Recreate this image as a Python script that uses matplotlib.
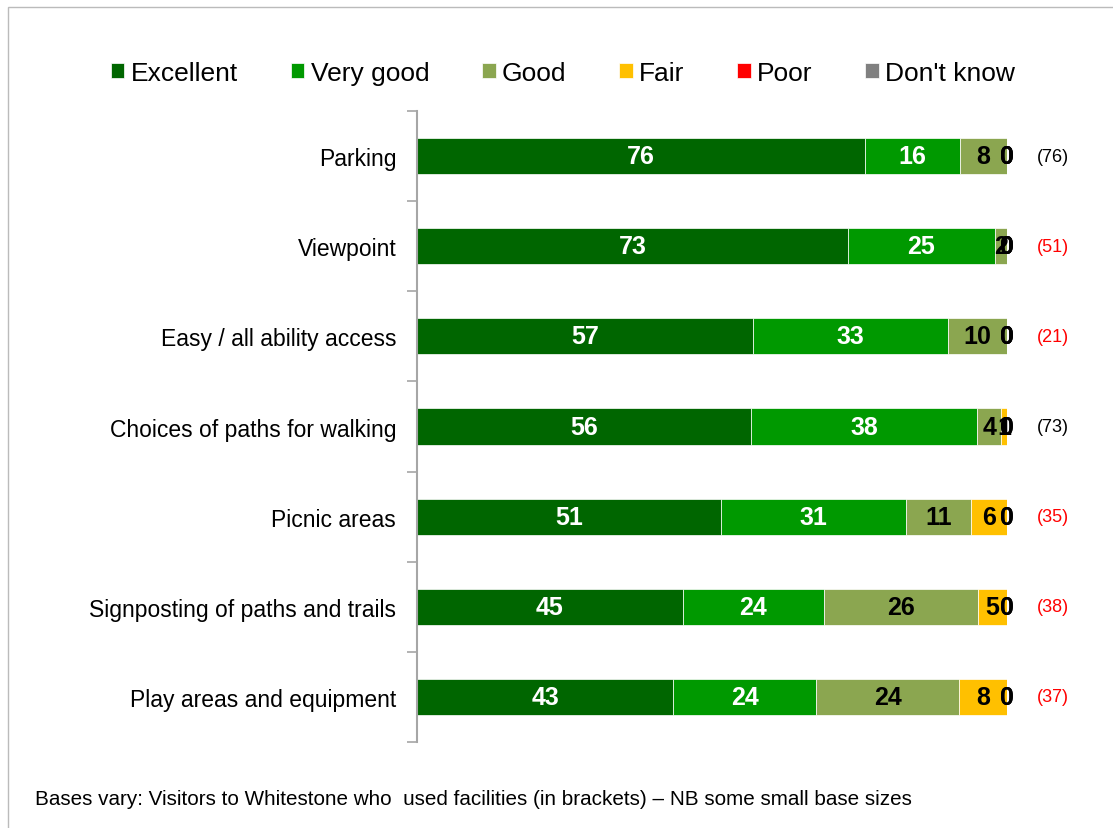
import matplotlib.pyplot as plt
import numpy as np
from matplotlib.patches import Rectangle

plt.rcParams["font.family"] = ["Liberation Sans", "DejaVu Sans"]

categories = [
    "Parking",
    "Viewpoint",
    "Easy / all ability access",
    "Choices of paths for walking",
    "Picnic areas",
    "Signposting of paths and trails",
    "Play areas and equipment",
]
series_names = ["Excellent", "Very good", "Good", "Fair", "Poor", "Don't know"]
excellent = [76, 73, 57, 56, 51, 45, 43]
very_good = [16, 25, 33, 38, 31, 24, 24]
good = [8, 2, 10, 4, 11, 26, 24]
fair = [0, 0, 0, 1, 6, 5, 8]
poor = [0, 0, 0, 0, 0, 0, 0]
dont_know = [0, 0, 0, 0, 0, 0, 0]
bases = ["(76)", "(51)", "(21)", "(73)", "(35)", "(38)", "(37)"]
small_base = [False, True, True, False, True, True, True]

colors = ["#006600", "#009900", "#8BA650", "#FFC000", "#FF0000", "#808080"]
label_colors = ["white", "white", "black", "black", "black", "black"]

data = np.array([excellent, very_good, good, fair, poor, dont_know], dtype=float)
# 100% stacked: widths scaled so every bar fills the row
share = data / data.sum(axis=0) * 100

fig = plt.figure(figsize=(11.13, 8.29), dpi=100)
ax = fig.add_axes([0.3747, 0.1037, 0.5301, 0.7612])

y = np.arange(len(categories))
left = np.zeros(len(categories))
for i, name in enumerate(series_names):
    w = share[i]
    ax.barh(y, w, left=left, height=0.4, color=colors[i], label=name,
            edgecolor="white", linewidth=0.5)
    for j, v in enumerate(data[i]):
        ax.text(left[j] + w[j] / 2, y[j], f"{int(v)}", ha="center", va="center",
                color=label_colors[i], fontsize=18, fontweight="bold")
    left += w

for j, b in enumerate(bases):
    ax.text(107.8, y[j], b, ha="center", va="center", fontsize=13,
            color="#FF0000" if small_base[j] else "black")

ax.set_xlim(0, 100)
ax.set_ylim(len(categories) - 0.5, -0.5)
ax.set_yticks(y)
ax.set_yticklabels(categories, fontsize=16.5)
ax.tick_params(axis="y", length=0, pad=15)
ax.set_yticks(np.arange(len(categories) + 1) - 0.5, minor=True)
ax.tick_params(axis="y", which="minor", length=7, width=1.2, color="#A6A6A6")
ax.set_xticks([])
for s in ["top", "right", "bottom"]:
    ax.spines[s].set_visible(False)
ax.spines["left"].set_color("#A6A6A6")
ax.spines["left"].set_linewidth(1.5)

fig.legend(loc="center", bbox_to_anchor=(0.506, 1 - 74 / 829), ncol=6,
           frameon=False, fontsize=19, handlelength=0.5, handleheight=0.5,
           handletextpad=0.25, columnspacing=2.0)

fig.text(35 / 1113, 1 - 800 / 829,
         "Bases vary: Visitors to Whitestone who  used facilities (in brackets) \u2013 NB some small base sizes",
         fontsize=14.9, va="center", ha="left")

fig.patches.append(Rectangle((8 / 1113, -0.1), 1.2, 1 - 8 / 829 + 0.1,
                             transform=fig.transFigure, fill=False,
                             edgecolor="#BBBBBB", linewidth=1))

fig.savefig("out.png", dpi=100)
